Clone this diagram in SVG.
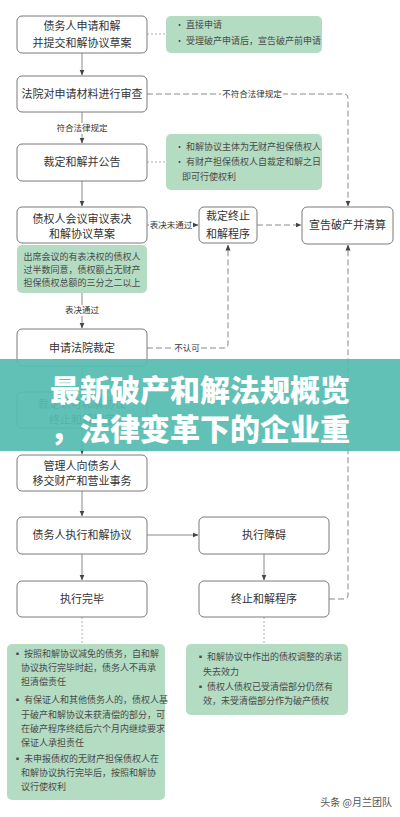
<svg xmlns="http://www.w3.org/2000/svg" width="400" height="817" viewBox="0 0 400 817">
<style>
.bg{fill:#ffffff}
.node rect{fill:#ffffff;stroke:#7a7a7a;stroke-width:1}
.node text{font-family:"Noto Sans CJK SC","Liberation Sans",sans-serif;font-size:11px;fill:#333;text-anchor:middle}
.note rect{fill:#b3dcc3;stroke:none}
.note text{font-family:"Noto Sans CJK SC","Liberation Sans",sans-serif;font-size:9px;fill:#4a4a4a}
.solid{fill:none;stroke:#8a8a8a;stroke-width:1}
.dash{fill:none;stroke:#8a8a8a;stroke-width:1;stroke-dasharray:6,3}
.dot{fill:none;stroke:#b0b0b0;stroke-width:1;stroke-dasharray:2,2}
.lbl{font-family:"Noto Sans CJK SC","Liberation Sans",sans-serif;font-size:8.5px;fill:#333;text-anchor:middle}
.lblbg{fill:#ffffff}
.banner{fill:#55bcb0;opacity:0.93}
.btxt{font-family:"Noto Sans CJK SC","Liberation Sans",sans-serif;font-size:30px;font-weight:900;fill:#ffffff}
</style>
<defs>
<marker id="arr" markerWidth="6" markerHeight="6" refX="5.5" refY="3" orient="auto" markerUnits="userSpaceOnUse">
<path d="M0,0.5 L6,3 L0,5.5 z" fill="#444"/>
</marker>
</defs>
<rect class="bg" x="0" y="0" width="400" height="817"/>

<g id="connectors">
<line class="solid" x1="82" y1="53" x2="82" y2="75" marker-end="url(#arr)"/>
<line class="solid" x1="82" y1="112" x2="82" y2="143" marker-end="url(#arr)"/>
<rect class="lblbg" x="56" y="123" width="52" height="11"/>
<text class="lbl" x="82" y="131">符合法律规定</text>
<line class="solid" x1="82" y1="181" x2="82" y2="206" marker-end="url(#arr)"/>
<line class="solid" x1="82" y1="293" x2="82" y2="328" marker-end="url(#arr)"/>
<rect class="lblbg" x="64" y="305" width="36" height="11"/>
<text class="lbl" x="82" y="313">表决通过</text>
<line class="solid" x1="82" y1="366" x2="82" y2="391" marker-end="url(#arr)"/>
<line class="solid" x1="82" y1="428" x2="82" y2="454" marker-end="url(#arr)"/>
<line class="solid" x1="82" y1="491" x2="82" y2="516" marker-end="url(#arr)"/>
<line class="solid" x1="82" y1="554" x2="82" y2="580" marker-end="url(#arr)"/>
<line class="solid" x1="147" y1="535" x2="198" y2="535" marker-end="url(#arr)"/>
<line class="solid" x1="264" y1="554" x2="264" y2="580" marker-end="url(#arr)"/>
<line class="solid" x1="147" y1="225" x2="198" y2="225" marker-end="url(#arr)"/>
<rect class="lblbg" x="149" y="220" width="44" height="11"/>
<text class="lbl" x="171" y="228">表决未通过</text>
<line class="dash" x1="257" y1="225" x2="301" y2="225" marker-end="url(#arr)"/>
<path class="dash" d="M147,94 H344 Q348,94 348,98 V206" marker-end="url(#arr)"/>
<rect class="lblbg" x="221" y="89" width="62" height="11"/>
<text class="lbl" x="252" y="97">不符合法律规定</text>
<path class="dash" d="M147,348 H224 Q228,348 228,344 V245" marker-end="url(#arr)"/>
<rect class="lblbg" x="173" y="343" width="28" height="11"/>
<text class="lbl" x="187" y="351">不认可</text>
<path class="dash" d="M329,599 H344 Q348,599 348,595 V245" marker-end="url(#arr)"/>
<line class="dot" x1="147" y1="34" x2="166" y2="34"/>
<line class="dot" x1="147" y1="162" x2="166" y2="162"/>
<line class="dot" x1="82" y1="617" x2="82" y2="644"/>
<line class="dot" x1="264" y1="617" x2="264" y2="644"/>
</g>

<g id="n1" class="node"><rect x="17" y="16" width="130" height="37" rx="5"/><text x="82" y="30">债务人申请和解</text><text x="82" y="47">并提交和解协议草案</text></g>
<g id="note1" class="note"><rect x="166" y="16" width="156" height="37" rx="5"/><text x="175" y="28">• 直接申请</text><text x="175" y="44">• 受理破产申请后，宣告破产前申请</text></g>
<g id="n2" class="node"><rect x="17" y="76" width="130" height="36" rx="5"/><text x="82" y="98">法院对申请材料进行审查</text></g>
<g id="n3" class="node"><rect x="17" y="144" width="130" height="37" rx="5"/><text x="82" y="166">裁定和解并公告</text></g>
<g id="note2" class="note"><rect x="166" y="134" width="156" height="56" rx="5"/><text x="175" y="150">• 和解协议主体为无财产担保债权人</text><text x="175" y="165">• 有财产担保债权人自裁定和解之日</text><text x="182" y="180">即可行使权利</text></g>
<g id="n4" class="node"><rect x="17" y="207" width="130" height="36" rx="5"/><text x="82" y="223">债权人会议审议表决</text><text x="82" y="238">和解协议草案</text></g>
<g id="note3" class="note"><rect x="17" y="245" width="130" height="48" rx="5"/><text x="82" y="260" text-anchor="middle">出席会议的有表决权的债权人</text><text x="82" y="273" text-anchor="middle">过半数同意，债权额占无财产</text><text x="82" y="286" text-anchor="middle">担保债权总额的三分之二以上</text></g>
<g id="n12" class="node"><rect x="199" y="207" width="58" height="36" rx="5"/><text x="228" y="220">裁定终止</text><text x="228" y="238">和解程序</text></g>
<g id="n13" class="node"><rect x="302" y="207" width="91" height="37" rx="5"/><text x="347.5" y="229">宣告破产并清算</text></g>
<g id="n5" class="node"><rect x="17" y="329" width="130" height="37" rx="5"/><text x="82" y="352">申请法院裁定</text></g>
<g id="n6" class="node"><rect x="17" y="392" width="130" height="36" rx="5"/><text x="82" y="408">裁定认可和解协议</text><text x="82" y="424">终止和解程序</text></g>
<g id="n7" class="node"><rect x="17" y="455" width="130" height="36" rx="5"/><text x="82" y="470">管理人向债务人</text><text x="82" y="485">移交财产和营业事务</text></g>
<g id="n8" class="node"><rect x="17" y="517" width="130" height="37" rx="5"/><text x="82" y="539">债务人执行和解协议</text></g>
<g id="n10" class="node"><rect x="199" y="517" width="130" height="37" rx="5"/><text x="264" y="539">执行障碍</text></g>
<g id="n9" class="node"><rect x="17" y="581" width="130" height="36" rx="5"/><text x="82" y="603">执行完毕</text></g>
<g id="n11" class="node"><rect x="199" y="581" width="130" height="36" rx="5"/><text x="264" y="603">终止和解程序</text></g>
<g id="note4" class="note"><rect x="7" y="644" width="158" height="156" rx="5"/>
<text x="13" y="657">▪ 按照和解协议减免的债务，自和解</text>
<text x="21" y="671">协议执行完毕时起，债务人不再承</text>
<text x="21" y="685">担清偿责任</text>
<text x="13" y="703">▪ 有保证人和其他债务人的，债权人基</text>
<text x="21" y="718">于破产和解协议未获清偿的部分，可</text>
<text x="21" y="732">在破产程序终结后六个月内继续要求</text>
<text x="21" y="746">保证人承担责任</text>
<text x="13" y="762">▪ 未申报债权的无财产担保债权人在</text>
<text x="21" y="776">和解协议执行完毕后，按照和解协</text>
<text x="21" y="790">议行使权利</text>
</g>
<g id="note5" class="note"><rect x="186" y="644" width="162" height="71" rx="5"/>
<text x="196" y="660">▪ 和解协议中作出的债权调整的承诺</text>
<text x="203" y="675">失去效力</text>
<text x="196" y="690">▪ 债权人债权已受清偿部分仍然有</text>
<text x="203" y="704">效，未受清偿部分作为破产债权</text>
</g>
<text x="392" y="806" text-anchor="end" font-family="Noto Sans CJK SC, Liberation Sans, sans-serif" font-size="10" fill="#555">头条 @月兰团队</text>

<g id="banner">
<rect class="banner" x="0" y="359" width="400" height="92"/>
<text class="btxt" x="50" y="401">最新破产和解法规概览</text>
<text class="btxt" x="50" y="440">，法律变革下的企业重</text>
</g>
</svg>
